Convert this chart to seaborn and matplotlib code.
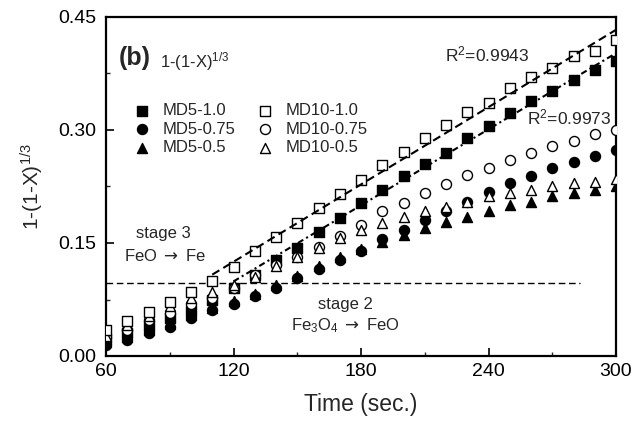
import matplotlib
matplotlib.use("Agg")
import matplotlib.pyplot as plt
import pandas as pd
import seaborn as sns

# Reduction time (s) and the 1-(1-X)^(1/3) conversion function for each sample
time_s = [60, 70, 80, 90, 100, 110, 120, 130, 140, 150, 160, 170, 180,
          190, 200, 210, 220, 230, 240, 250, 260, 270, 280, 290, 300]

md5_10 = [0.022, 0.031, 0.040, 0.050, 0.060, 0.074, 0.090, 0.108, 0.128, 0.144,
          0.165, 0.183, 0.203, 0.220, 0.239, 0.255, 0.270, 0.290, 0.305, 0.322,
          0.339, 0.352, 0.367, 0.380, 0.391]
md5_075 = [0.015, 0.021, 0.031, 0.039, 0.050, 0.061, 0.069, 0.079, 0.090, 0.103,
           0.115, 0.128, 0.140, 0.155, 0.167, 0.180, 0.192, 0.205, 0.218, 0.229,
           0.239, 0.250, 0.257, 0.266, 0.273]
md5_05 = [0.018, 0.025, 0.034, 0.043, 0.054, 0.064, 0.073, 0.082, 0.094, 0.106,
          0.120, 0.132, 0.142, 0.151, 0.161, 0.170, 0.178, 0.185, 0.193, 0.200,
          0.205, 0.212, 0.217, 0.220, 0.225]
md10_10 = [0.035, 0.046, 0.059, 0.072, 0.085, 0.100, 0.118, 0.140, 0.158, 0.176,
           0.197, 0.215, 0.233, 0.254, 0.271, 0.289, 0.307, 0.324, 0.336, 0.356,
           0.371, 0.382, 0.398, 0.405, 0.420]
md10_075 = [0.025, 0.035, 0.048, 0.057, 0.069, 0.077, 0.090, 0.108, 0.121, 0.132,
            0.145, 0.159, 0.174, 0.192, 0.203, 0.216, 0.228, 0.240, 0.250, 0.260,
            0.270, 0.279, 0.286, 0.295, 0.300]
md10_05 = [0.027, 0.041, 0.053, 0.066, 0.077, 0.085, 0.094, 0.105, 0.119, 0.132,
           0.143, 0.156, 0.167, 0.176, 0.185, 0.192, 0.198, 0.205, 0.212, 0.216,
           0.221, 0.225, 0.229, 0.231, 0.235]

# Linear fits of the stage-3 region
fit_md10_t = [110, 300]
fit_md10_y = [0.108, 0.433]
fit_md5_t = [120, 300]
fit_md5_y = [0.099, 0.402]

# Boundary between stage 2 and stage 3
stage_t = [60, 283]
stage_y = [0.097, 0.097]

x_ticks = [60, 120, 180, 240, 300]
x_minor = [90, 150, 210, 270]
y_ticks = [0.00, 0.15, 0.30, 0.45]
y_minor = [0.075, 0.225, 0.375]
y_tick_labels = ["0.00", "0.15", "0.30", "0.45"]

series = [
    ("MD5-1.0", md5_10, "s", "black"),
    ("MD5-0.75", md5_075, "o", "black"),
    ("MD5-0.5", md5_05, "^", "black"),
    ("MD10-1.0", md10_10, "s", "white"),
    ("MD10-0.75", md10_075, "o", "white"),
    ("MD10-0.5", md10_05, "^", "white"),
]

df = pd.concat(
    [pd.DataFrame({"time": time_s, "value": vals, "sample": name})
     for name, vals, _, _ in series],
    ignore_index=True,
)

sns.set_theme(style="ticks")
plt.rcParams["font.family"] = ["Liberation Sans", "DejaVu Sans"]
plt.rcParams["mathtext.fontset"] = "custom"
plt.rcParams["mathtext.rm"] = "Liberation Sans"
plt.rcParams["mathtext.it"] = "Liberation Sans:italic"
plt.rcParams["mathtext.sf"] = "DejaVu Sans"

fig = plt.figure(figsize=(6.39, 4.26), dpi=100)
ax = fig.add_axes([106 / 639, 1 - 356 / 426, 510 / 639, 339 / 426])

draw_order = ["MD5-0.75", "MD5-0.5", "MD5-1.0", "MD10-0.75", "MD10-0.5", "MD10-1.0"]
style = {name: (m, fc) for name, _, m, fc in series}
for name in draw_order:
    m, fc = style[name]
    sub = df[df["sample"] == name]
    sns.scatterplot(data=sub, x="time", y="value", marker=m, s=52,
                    facecolor=fc, edgecolor="black", linewidth=1.0,
                    ax=ax, label=name, legend=False, zorder=3)

ax.plot(fit_md10_t, fit_md10_y, color="black", lw=1.5, ls=(0, (4, 2.2)), zorder=4)
ax.plot(fit_md5_t, fit_md5_y, color="black", lw=1.5, ls=(0, (3, 1.6, 1, 1.6)), zorder=4)
ax.plot(stage_t, stage_y, color="black", lw=1.0, ls=(0, (4.8, 2.6)), zorder=2)

ax.set_xlim(60, 300)
ax.set_ylim(0, 0.45)
ax.set_xticks(x_ticks)
ax.set_xticks(x_minor, minor=True)
ax.set_yticks(y_ticks)
ax.set_yticklabels(y_tick_labels)
ax.set_yticks(y_minor, minor=True)
ax.tick_params(axis="both", which="major", direction="in", length=5.5, width=1.2,
               labelsize=14, colors="black")
ax.tick_params(axis="x", which="major", pad=5.2)
ax.tick_params(axis="y", which="major", pad=7.0)
ax.tick_params(axis="both", which="minor", direction="in", length=3, width=1.0)
for sp in ax.spines.values():
    sp.set_linewidth(1.6)
    sp.set_color("black")

ax.set_xlabel("Time (sec.)", fontsize=16.5, labelpad=9)
ax.set_ylabel("1-(1-X)$^{1/3}$", fontsize=15, labelpad=9)

# Legend in two columns
handles, labels = ax.get_legend_handles_labels()
legend_order = ["MD5-1.0", "MD5-0.75", "MD5-0.5", "MD10-1.0", "MD10-0.75", "MD10-0.5"]
idx = [labels.index(n) for n in legend_order]
ax.legend([handles[i] for i in idx], [labels[i] for i in idx],
          ncol=2, loc="upper left", bbox_to_anchor=(0.054, 0.745), frameon=False,
          fontsize=12, handlelength=1.0, handletextpad=0.76,
          columnspacing=1.24, labelspacing=0.2, borderpad=0, borderaxespad=0)

ax.text(66.1, 0.395, "(b)", fontsize=18, fontweight="bold", va="center", ha="left")
ax.text(85.4, 0.391, "1-(1-X)$^{1/3}$", fontsize=12, va="center", ha="left")
ax.text(219.5, 0.400, "R$^2$=0.9943", fontsize=12.5, va="center", ha="left")
ax.text(258, 0.317, "R$^2$=0.9973", fontsize=12.5, va="center", ha="left")
ax.text(87, 0.163, "stage 3", fontsize=12, va="center", ha="center")
ax.text(87.8, 0.133, "FeO $\\mathsf{\\rightarrow}$ Fe", fontsize=12, va="center", ha="center")
ax.text(172.5, 0.068, "stage 2", fontsize=12, va="center", ha="center")
ax.text(172.5, 0.040, "Fe$_3$O$_4$ $\\mathsf{\\rightarrow}$ FeO", fontsize=12,
        va="center", ha="center")

fig.savefig("out.png", dpi=100, facecolor="white")
